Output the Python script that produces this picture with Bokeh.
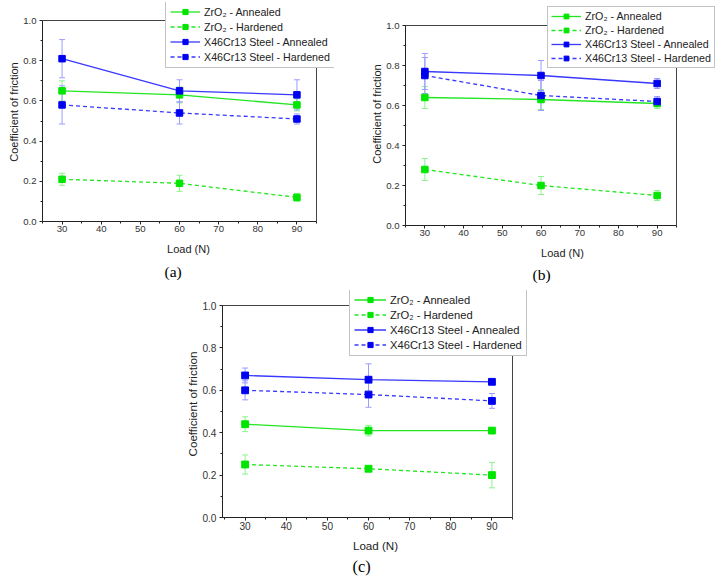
from bokeh.plotting import figure
from bokeh.models import (ColumnDataSource, Whisker, TeeHead, Legend, Spacer, Title,
                          SingleIntervalTicker, CustomJSTickFormatter)
from bokeh.layouts import row, column
from bokeh.embed import file_html
from bokeh.resources import INLINE

loads = [30, 60, 90]
series_names = ["ZrO₂ - Annealed", "ZrO₂ - Hardened",
                "X46Cr13 Steel - Annealed", "X46Cr13 Steel - Hardened"]

# panel (a)
a_zro2_ann = [0.65, 0.63, 0.58]
a_zro2_ann_err = [0.05, 0.04, 0.03]
a_zro2_hard = [0.21, 0.19, 0.12]
a_zro2_hard_err = [0.03, 0.04, 0.02]
a_steel_ann = [0.81, 0.65, 0.63]
a_steel_ann_err = [0.095, 0.055, 0.075]
a_steel_hard = [0.58, 0.54, 0.51]
a_steel_hard_err = [0.095, 0.055, 0.025]

# panel (b)
b_zro2_ann = [0.64, 0.63, 0.61]
b_zro2_ann_err = [0.055, 0.05, 0.025]
b_zro2_hard = [0.28, 0.20, 0.15]
b_zro2_hard_err = [0.055, 0.045, 0.025]
b_steel_ann = [0.77, 0.75, 0.71]
b_steel_ann_err = [0.09, 0.075, 0.025]
b_steel_hard = [0.75, 0.65, 0.62]
b_steel_hard_err = [0.09, 0.075, 0.025]

# panel (c)
c_zro2_ann = [0.44, 0.41, 0.41]
c_zro2_ann_err = [0.035, 0.025, 0.01]
c_zro2_hard = [0.25, 0.23, 0.20]
c_zro2_hard_err = [0.045, 0.01, 0.06]
c_steel_ann = [0.67, 0.65, 0.64]
c_steel_ann_err = [0.035, 0.075, 0.01]
c_steel_hard = [0.60, 0.58, 0.55]
c_steel_hard_err = [0.045, 0.06, 0.035]

x_axis_label = "Load (N)"
y_axis_label = "Coefficient of friction"

FONT = "Liberation Sans"
GREEN = "#22e622"
GREEN_M = "#00e600"
GREEN_E = "#8ff08f"
BLUE = "#3838ff"
BLUE_M = "#0000f0"
BLUE_E = "#9c9cff"


def make_panel(data, tag, g):
    s = g["scale"]
    x0, x1 = g["xdata"]
    y0, y1 = 0.0, 1.0
    # frame is extended right/top so that the legend (which overlaps the
    # axes box in the original) is not clipped; the axes box stays at the data limits
    xr_end = x0 + (x1 - x0) * g["fw"] / g["fw_data"]
    yr_end = y0 + (y1 - y0) * g["fh"] / g["fh_data"]
    p = figure(frame_width=g["fw"], frame_height=g["fh"],
               min_border_left=g["bl"], min_border_right=g["br"],
               min_border_top=g["bt"], min_border_bottom=g["bb"],
               x_range=(x0, xr_end), y_range=(y0, yr_end),
               output_backend="svg", toolbar_location=None)
    p.grid.visible = False
    p.background_fill_color = "white"
    p.border_fill_color = "white"
    p.outline_line_color = None

    p.xaxis.ticker = SingleIntervalTicker(interval=10, num_minor_ticks=2)
    p.yaxis.ticker = SingleIntervalTicker(interval=0.2, num_minor_ticks=2)
    p.xaxis.bounds = (x0, x1)
    p.yaxis.bounds = (y0, y1)
    p.yaxis.formatter = CustomJSTickFormatter(code="return tick.toFixed(1);")
    for ax in (p.xaxis, p.yaxis):
        ax.major_tick_out = 3
        ax.major_tick_in = 0
        ax.minor_tick_out = 2
        ax.minor_tick_in = 0
        ax.axis_line_color = "#222222"
        ax.major_tick_line_color = "#222222"
        ax.minor_tick_line_color = "#222222"
        ax.major_label_text_font = FONT
        ax.major_label_text_font_size = f"{9.6 * s:.1f}px"
        ax.major_label_text_color = "#333333"
        ax.axis_label_text_font = FONT
        ax.axis_label_text_font_size = f"{11 * s:.1f}px"
        ax.axis_label_text_font_style = "normal"
        ax.axis_label_text_color = "#222222"
    p.xaxis.major_label_standoff = 1
    p.xaxis.axis_label_standoff = g["xlab_standoff"]
    p.yaxis.major_label_standoff = 3
    p.yaxis.axis_label_standoff = 0
    p.xaxis.axis_label = x_axis_label
    p.yaxis.axis_label = y_axis_label

    # top and right edges of the axes box
    p.segment(x0=[x0, x1], y0=[y1, y0], x1=[x1, x1], y1=[y1, y1],
              line_color="#444444", line_width=1)

    styles = [
        (GREEN, GREEN_M, GREEN_E, "solid"),
        (GREEN, GREEN_M, GREEN_E, "4 3"),
        (BLUE, BLUE_M, BLUE_E, "solid"),
        (BLUE, BLUE_M, BLUE_E, "4 3"),
    ]
    items = []
    for name, (vals, errs), (lc, mc, ec, dash) in zip(series_names, data, styles):
        src = ColumnDataSource(dict(
            x=loads, y=vals,
            upper=[v + e for v, e in zip(vals, errs)],
            lower=[v - e for v, e in zip(vals, errs)]))
        w = Whisker(source=src, base="x", upper="upper", lower="lower",
                    line_color=ec, line_width=1,
                    upper_head=TeeHead(size=6, line_color=ec, line_width=1),
                    lower_head=TeeHead(size=6, line_color=ec, line_width=1))
        p.add_layout(w)
        r1 = p.line("x", "y", source=src, line_color=lc, line_width=1.3,
                    line_dash=dash)
        r2 = p.scatter("x", "y", source=src, marker="square", size=6.5 * s,
                       fill_color=mc, line_color=mc)
        items.append((name, [r1, r2]))

    legend = Legend(items=items, location=g["leg"])
    legend.label_text_font = FONT
    legend.label_text_font_size = f"{10.7 * s:.1f}px"
    legend.label_text_color = "#222222"
    legend.label_height = g["lh"]
    legend.glyph_height = g["lh"]
    legend.glyph_width = round(30 * s)
    legend.label_standoff = 4
    legend.spacing = 2
    legend.padding = g["pad"]
    legend.margin = 0
    legend.border_line_color = "#888888"
    legend.border_line_width = 1
    legend.background_fill_alpha = 1
    p.add_layout(legend, "center")

    p.add_layout(Title(text=tag, align="left", offset=g["tag_off"],
                       text_font="Liberation Serif", text_font_style="normal",
                       text_font_size=f"{15.5 * s:.1f}px", text_color="black",
                       standoff=g["tag_standoff"]), "below")
    return p


data_a = [(a_zro2_ann, a_zro2_ann_err), (a_zro2_hard, a_zro2_hard_err),
          (a_steel_ann, a_steel_ann_err), (a_steel_hard, a_steel_hard_err)]
data_b = [(b_zro2_ann, b_zro2_ann_err), (b_zro2_hard, b_zro2_hard_err),
          (b_steel_ann, b_steel_ann_err), (b_steel_hard, b_steel_hard_err)]
data_c = [(c_zro2_ann, c_zro2_ann_err), (c_zro2_hard, c_zro2_hard_err),
          (c_steel_ann, c_steel_ann_err), (c_steel_hard, c_steel_hard_err)]

pa = make_panel(data_a, "(a)", dict(scale=1.0, xdata=(25, 95),
                                    fw=292, fw_data=274, fh=219, fh_data=201,
                                    bl=42, br=29, bt=2, bb=65,
                                    leg=(123, 153), lh=13, pad=4, xlab_standoff=8,
                                    tag_off=122, tag_standoff=6))
pb = make_panel(data_b, "(b)", dict(scale=1.0, xdata=(25, 95),
                                    fw=314, fw_data=271, fh=223, fh_data=200,
                                    bl=42, br=2, bt=2, bb=65,
                                    leg=(142, 157), lh=12, pad=3, xlab_standoff=8,
                                    tag_off=127, tag_standoff=5))
pc = make_panel(data_c, "(c)", dict(scale=1.05, xdata=(24.5, 95),
                                    fw=306, fw_data=290, fh=227, fh_data=212,
                                    bl=42, br=24, bt=0, bb=62,
                                    leg=(127, 161), lh=13, pad=4, xlab_standoff=6,
                                    tag_off=130, tag_standoff=1))

layout = column(row(pa, pb), row(Spacer(width=180, height=10), pc))
open("out.html", "w").write(file_html(layout, INLINE))
